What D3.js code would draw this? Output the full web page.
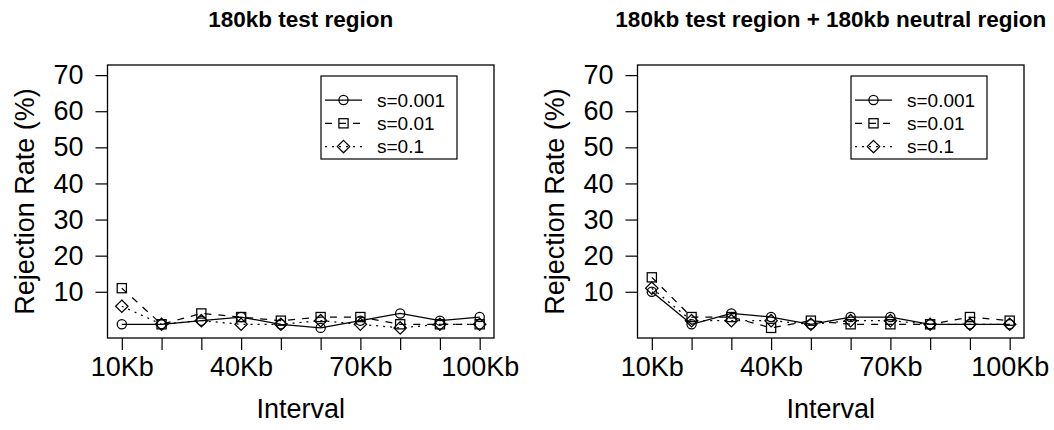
<!DOCTYPE html>
<html>
<head>
<meta charset="utf-8">
<script src="https://cdn.jsdelivr.net/npm/d3@7"></script>
<style>
  body { margin: 0; background: #fff; }
  svg { display: block; font-family: "Liberation Sans", Arial, sans-serif; }
  .tick line { stroke: #000; stroke-width: 1.2; }
</style>
</head>
<body>
<svg id="chart" width="1054" height="430"></svg>
<script>
// data
const intervals = [10, 20, 30, 40, 50, 60, 70, 80, 90, 100]
const labelledTicks = [10, 40, 70, 100]
const yTicks = [10, 20, 30, 40, 50, 60, 70]
const seriesNames = ['s=0.001', 's=0.01', 's=0.1']

const testOnly001 = [1, 1, 2, 3, 1, 0, 2, 4, 2, 3]
const testOnly01 = [11, 1, 4, 3, 2, 3, 3, 1, 1, 1]
const testOnly1 = [6, 1, 2, 1, 1, 2, 1, 0, 1, 1]

const withNeutral001 = [10, 1, 4, 3, 1, 3, 3, 1, 1, 1]
const withNeutral01 = [14, 3, 3, 0, 2, 1, 1, 1, 3, 2]
const withNeutral1 = [11, 2, 2, 2, 1, 2, 2, 1, 1, 1]

const panels = [
  { title: '180kb test region', left: 107.5, series: [testOnly001, testOnly01, testOnly1] },
  { title: '180kb test region + 180kb neutral region', left: 637.5, series: [withNeutral001, withNeutral01, withNeutral1] }
]

const dashes = [null, '7,7', '2,5']
const symbols = ['circle', 'square', 'diamond']

const plotW = 386.5
const plotTop = 65
const plotBottom = 338
const sw = 1.25

const svg = d3.select('#chart')

function drawSymbol (g, kind, cx, cy) {
  if (kind === 'circle') {
    g.append('circle').attr('cx', cx).attr('cy', cy).attr('r', 4.6)
      .attr('fill', 'none').attr('stroke', '#000').attr('stroke-width', sw)
  } else if (kind === 'square') {
    g.append('rect').attr('x', cx - 4.6).attr('y', cy - 4.6)
      .attr('width', 9.2).attr('height', 9.2)
      .attr('fill', 'none').attr('stroke', '#000').attr('stroke-width', sw)
  } else {
    const r = 6.2
    g.append('path')
      .attr('d', `M${cx},${cy - r}L${cx + r},${cy}L${cx},${cy + r}L${cx - r},${cy}Z`)
      .attr('fill', 'none').attr('stroke', '#000').attr('stroke-width', sw)
  }
}

panels.forEach(p => {
  const x = d3.scaleLinear().domain([6.4, 103.6]).range([p.left, p.left + plotW])
  const y = d3.scaleLinear().domain([-2.8, 72.8]).range([plotBottom, plotTop])
  const g = svg.append('g')

  // title
  g.append('text')
    .attr('x', p.left + plotW / 2)
    .attr('y', 27)
    .attr('text-anchor', 'middle')
    .attr('font-weight', 'bold')
    .attr('font-size', 22.5)
    .text(p.title)

  // y-axis
  const yAxis = g.append('g')
    .attr('transform', `translate(${p.left},0)`)
    .call(d3.axisLeft(y).tickValues(yTicks).tickSize(12).tickPadding(12))
  yAxis.select('.domain').remove()
  yAxis.selectAll('text').attr('font-size', 27).attr('fill', '#000')
    .attr('font-family', '"Liberation Sans", Arial, sans-serif')

  // x-axis
  const xAxis = g.append('g')
    .attr('transform', `translate(0,${plotBottom})`)
    .call(d3.axisBottom(x).tickValues(intervals).tickSize(12)
      .tickFormat(d => labelledTicks.includes(d) ? d + 'Kb' : ''))
  xAxis.select('.domain').remove()
  xAxis.selectAll('text').attr('font-size', 27).attr('fill', '#000')
    .attr('font-family', '"Liberation Sans", Arial, sans-serif')
    .attr('y', 38).attr('dy', 0)

  // axis labels
  g.append('text')
    .attr('x', p.left + plotW / 2)
    .attr('y', 418)
    .attr('text-anchor', 'middle')
    .attr('font-size', 27)
    .text('Interval')

  g.append('text')
    .attr('transform', `translate(${p.left - 74},${(plotTop + plotBottom) / 2}) rotate(-90)`)
    .attr('text-anchor', 'middle')
    .attr('font-size', 27)
    .text('Rejection Rate (%)')

  // plot box
  g.append('rect')
    .attr('x', p.left).attr('y', plotTop)
    .attr('width', plotW).attr('height', plotBottom - plotTop)
    .attr('fill', 'none').attr('stroke', '#000').attr('stroke-width', 1.3)

  // series
  const line = d3.line()
    .x((d, i) => x(intervals[i]))
    .y(d => y(d))

  p.series.forEach((vals, si) => {
    g.append('path')
      .attr('d', line(vals))
      .attr('fill', 'none')
      .attr('stroke', '#000')
      .attr('stroke-width', sw)
      .attr('stroke-dasharray', dashes[si])
    vals.forEach((v, i) => drawSymbol(g, symbols[si], x(intervals[i]), y(v)))
  })

  // legend
  const lx = p.left + plotW - 37 - 136
  const ly = 76
  g.append('rect')
    .attr('x', lx).attr('y', ly).attr('width', 136).attr('height', 83)
    .attr('fill', '#fff').attr('stroke', '#000').attr('stroke-width', 1.2)
  seriesNames.forEach((name, si) => {
    const ry = ly + 24 + si * 23.3
    g.append('line')
      .attr('x1', lx + 4).attr('x2', lx + 41)
      .attr('y1', ry).attr('y2', ry)
      .attr('stroke', '#000').attr('stroke-width', sw)
      .attr('stroke-dasharray', dashes[si])
    drawSymbol(g, symbols[si], lx + 22.5, ry)
    g.append('text')
      .attr('x', lx + 56).attr('y', ry)
      .attr('dy', '0.35em')
      .attr('font-size', 19)
      .text(name)
  })
})
</script>
</body>
</html>
